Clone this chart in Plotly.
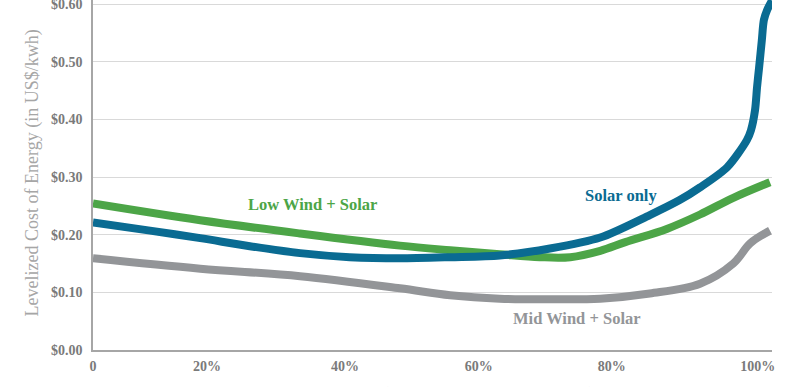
import plotly.graph_objects as go

# Renewable penetration (%) and levelized cost of energy (US$/kWh)
solar_x = [0, 8.4, 15.8, 23.1, 30.5, 37.8, 45.2, 52.6, 59.9, 67.3, 74.7, 82.0, 86.4, 89.4,
           93.4, 96.3, 96.9, 97.5, 97.8, 98.1, 98.5, 98.8, 99.3, 100.0]
solar_y = [0.221, 0.207, 0.194, 0.180, 0.168, 0.161, 0.159, 0.161, 0.164, 0.176, 0.195, 0.234,
           0.260, 0.282, 0.317, 0.364, 0.381, 0.416, 0.456, 0.490, 0.537, 0.572, 0.590, 0.606]

lowwind_x = [0, 15.8, 30.5, 45.2, 52.6, 59.9, 65.8, 70.3, 74.7, 78.4, 84.5, 89.4, 94.3, 99.7]
lowwind_y = [0.254, 0.225, 0.202, 0.181, 0.173, 0.166, 0.161, 0.161, 0.172, 0.187, 0.210,
             0.235, 0.264, 0.291]

midwind_x = [0, 15.8, 30.5, 45.2, 52.6, 59.9, 67.3, 74.7, 82.0, 89.4, 94.3, 96.8, 99.7]
midwind_y = [0.159, 0.141, 0.128, 0.107, 0.095, 0.089, 0.088, 0.089, 0.098, 0.115, 0.150,
             0.185, 0.207]

x_tick_vals = [0, 16.8, 37.1, 56.8, 76.4, 97.9]
x_tick_text = ["0", "20%", "40%", "60%", "80%", "100%"]
y_tick_vals = [0, 0.1, 0.2, 0.3, 0.4, 0.5, 0.6]
y_tick_text = ["$0.00", "$0.10", "$0.20", "$0.30", "$0.40", "$0.50", "$0.60"]

BLUE = "#0a6b92"
GREEN = "#4ca547"
GREY = "#939598"
SERIF = "Liberation Serif, DejaVu Serif, serif"

fig = go.Figure()
fig.add_trace(go.Scatter(x=midwind_x, y=midwind_y, mode="lines", name="Mid Wind + Solar",
                         line=dict(color=GREY, width=8, shape="spline", smoothing=1.0)))
fig.add_trace(go.Scatter(x=lowwind_x, y=lowwind_y, mode="lines", name="Low Wind + Solar",
                         line=dict(color=GREEN, width=8, shape="spline", smoothing=1.0)))
fig.add_trace(go.Scatter(x=solar_x, y=solar_y, mode="lines", name="Solar only",
                         line=dict(color=BLUE, width=8, shape="spline", smoothing=0.8)))

fig.add_annotation(x=32.3, y=0.252, text="<b>Low Wind + Solar</b>", showarrow=False,
                   font=dict(family=SERIF, size=16.5, color=GREEN))
fig.add_annotation(x=77.8, y=0.268, text="<b>Solar only</b>", showarrow=False,
                   font=dict(family=SERIF, size=16.5, color=BLUE))
fig.add_annotation(x=71.3, y=0.055, text="<b>Mid Wind + Solar</b>", showarrow=False,
                   font=dict(family=SERIF, size=16.5, color=GREY))
fig.add_annotation(xref="paper", yref="paper", x=0.47, y=0, yshift=-32, yanchor="top",
                   text="<b>Renewable Penetration (based on fossil fuel substitution)</b>",
                   showarrow=False, font=dict(family=SERIF, size=15, color="#808080"))
fig.add_annotation(xref="paper", yref="paper", x=-0.1075, y=0.506, textangle=-90,
                   text="Levelized Cost of Energy (in US$/kwh)", showarrow=False,
                   font=dict(family=SERIF, size=18, color="#a6a6a6"))

fig.update_layout(
    width=800, height=387,
    margin=dict(l=93, r=28, t=0, b=37, autoexpand=False),
    plot_bgcolor="white", paper_bgcolor="white",
    showlegend=False,
    font=dict(family=SERIF),
)
fig.update_xaxes(range=[0, 100], tickvals=x_tick_vals, ticktext=x_tick_text,
                 showgrid=False, zeroline=False, showline=True, linecolor="#a6a6a6",
                 linewidth=1.5, ticks="", ticklabelstandoff=2, automargin=False,
                 tickfont=dict(family=SERIF, size=14, color="#7a7a7a", weight="bold"))
fig.update_yaxes(range=[0, 0.607], tickvals=y_tick_vals, ticktext=y_tick_text,
                 showgrid=True, gridcolor="#d9d9d9", gridwidth=1, zeroline=False,
                 showline=True, linecolor="#a6a6a6", linewidth=1.5, ticks="",
                 ticklabelstandoff=6, automargin=False, ticklabeloverflow="allow",
                 tickfont=dict(family=SERIF, size=14, color="#7a7a7a", weight="bold"))

fig.write_html("out.html", post_script="document.body.style.margin='0';",
               config={"displayModeBar": False})
